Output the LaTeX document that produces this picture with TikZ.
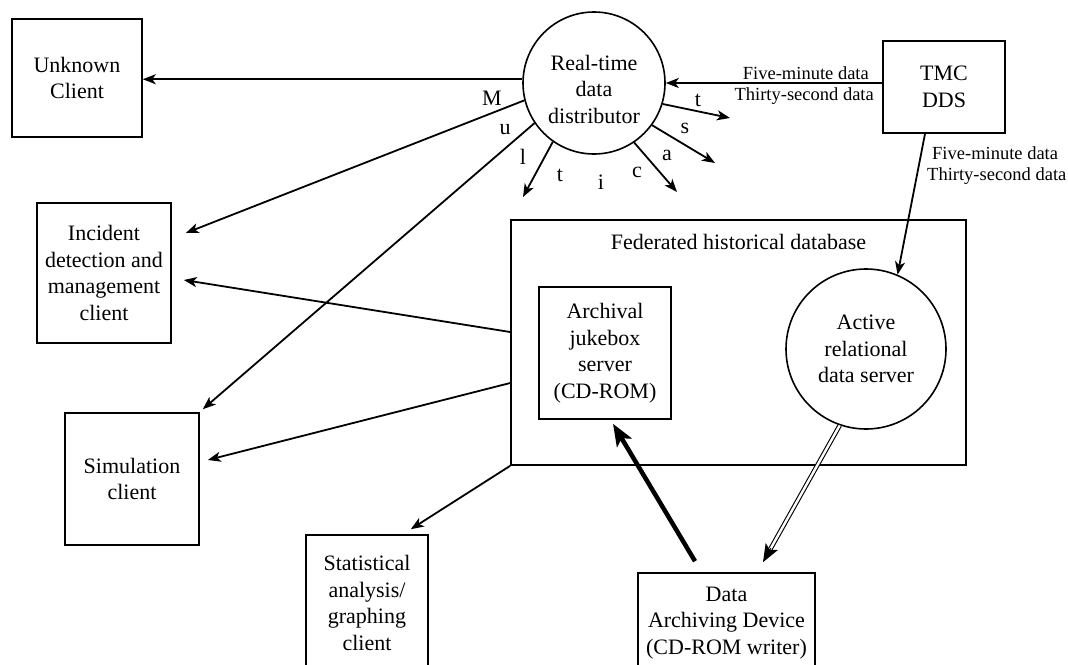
\documentclass[tikz,border=0pt]{standalone}
\usepackage{fontspec}
\setmainfont{Liberation Serif}
\usetikzlibrary{arrows.meta,calc}

\begin{document}
\begin{tikzpicture}[x=1pt,y=-1pt,
  every node/.style={inner sep=0pt, font=\fontsize{22}{26.5}\selectfont},
  box/.style={draw, line width=1.6pt, align=center},
  bubble/.style={draw, circle, line width=1.6pt, align=center},
  small/.style={font=\fontsize{18.5}{21}\selectfont},
  arr/.style={line width=1.8pt, -{Stealth[length=13pt,width=10pt,inset=3.5pt]}},
  heavy/.style={line width=4.5pt, -{Stealth[length=22pt,width=17pt,inset=5pt]}},
  twin/.style={double, line width=1.1pt, double distance=2.4pt},
  twinhead/.style={line width=1pt, -{Stealth[length=18pt,width=14pt,inset=4pt]}}]

\useasboundingbox (0,0) rectangle (1068,664);
\clip (0,0) rectangle (1068,664);

% sources and servers
\node[bubble, minimum size=142pt] (rtd) at (594,83) {};
\node[align=center] (rtdtxt) at (594,89) {Real-time\\data\\distributor};
\node[box, minimum width=122pt, minimum height=92pt] (tmc) at (944,87) {TMC\\DDS};

% historical database
\node[box, minimum width=455pt, minimum height=245pt] (fed) at (738.5,342.5) {};
\node[anchor=base] (fedlab) at ([yshift=-30pt]fed.north) {Federated historical database};
\node[box, minimum width=132pt, minimum height=132pt] (arch) at (605,353)
  {Archival\\jukebox\\server\\(CD-ROM)};
\node[bubble, minimum size=160pt] (act) at (866,349) {Active\\relational\\data server};
\node[box, minimum width=177pt, minimum height=100pt] (dat) at (726.5,623)
  {Data\\Archiving Device\\(CD-ROM writer)};

% clients
\node[box, minimum width=130pt, minimum height=118pt] (unk) at (77,78) {Unknown\\Client};
\node[box, minimum width=134pt, minimum height=140pt] (inc) at (104,273)
  {Incident\\detection and\\management\\client};
\node[box, minimum width=134pt, minimum height=132pt] (sim) at (132,479) {Simulation\\client};
\node[box, minimum width=122pt, minimum height=136pt] (stat) at (367,603)
  {Statistical\\analysis/\\graphing\\client};

% feed from the TMC
\draw[arr] (tmc.west |- rtd) -- (rtd.east);
\node[small, anchor=base east] (f1) at (869,79) {Five-minute data};
\node[small, anchor=base east] (f2) at (874,100) {Thirty-second data};
\draw[arr] ([xshift=-19pt]tmc.south) -- (act.67);
\node[small, anchor=base west] (f3) at (932,159) {Five-minute data};
\node[small, anchor=base west] (f4) at (927,180) {Thirty-second data};

% distributor to clients
\draw[arr] (rtd.177) -- (rtd.177 -| unk.east);
\draw[arr] (rtd.194) -- ([xshift=14pt,yshift=40pt]inc.east);
\draw[arr] (rtd.214) -- ([xshift=3pt,yshift=3pt]sim.north east);

% multicast fan
\coordinate (m1) at (523,197);
\coordinate (m2) at (677,192);
\coordinate (m3) at (715,163);
\coordinate (m4) at (730,118);
\draw[arr] (rtd.235) -- (m1);
\draw[arr] (rtd.304) -- (m2);
\draw[arr] (rtd.324) -- (m3);
\draw[arr] (rtd.343) -- (m4);
\node (lM) at (492,98) {M};
\node (lu) at (505,130) {u};
\node (ll) at (523,157) {l};
\node (lt1) at (560,175) {t};
\node (li) at (601,182) {i};
\node (lc) at (637,172) {c};
\node (la) at (667,155) {a};
\node (ls) at (685,128) {s};
\node (lt2) at (698,100) {t};

% database to clients
\draw[arr] ([yshift=10.5pt]fed.west) -- ([xshift=12pt,yshift=-7pt]inc.east);
\draw[arr] ([yshift=-40.5pt]fed.west) -- ([xshift=8pt,yshift=19pt]sim.east);
\draw[arr] (fed.south west) -- ([xshift=-18pt,yshift=5pt]stat.north east);

% archiving paths
\draw[heavy] ([xshift=-31.5pt,yshift=11pt]dat.north) -- ([xshift=8pt,yshift=-4pt]arch.south);
\coordinate (dstart) at (act.251);
\coordinate (dtip) at ([xshift=36.5pt,yshift=10pt]dat.north);
\draw[twin, shorten >=14pt] (dstart) -- (dtip);
\draw[twinhead] ($(dtip)!16pt!(dstart)$) -- (dtip);
\end{tikzpicture}
\end{document}
